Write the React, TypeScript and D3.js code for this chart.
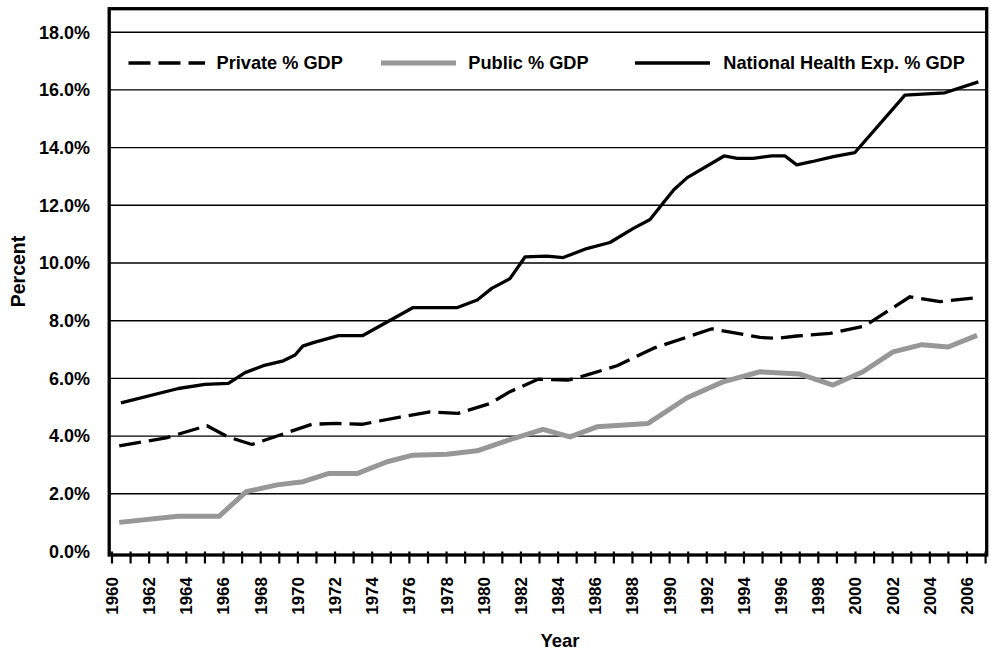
import React from "react";
import * as d3 from "d3";

// National Health Expenditure % GDP
const nheYears = [1960.48, 1963.57, 1965.0, 1966.26, 1967.16, 1968.14, 1969.22, 1969.85, 1970.26, 1970.83, 1972.18, 1973.47, 1976.18, 1978.55, 1979.65, 1980.43, 1981.41, 1982.22, 1983.39, 1984.28, 1985.54, 1986.79, 1988.05, 1988.95, 1989.66, 1990.24, 1990.95, 1992.93, 1993.64, 1994.5, 1995.49, 1996.21, 1996.84, 1997.64, 1998.81, 1999.97, 2002.66, 2004.81, 2006.61];
const nheValues = [5.15, 5.65, 5.79, 5.83, 6.2, 6.44, 6.61, 6.81, 7.12, 7.24, 7.48, 7.48, 8.45, 8.45, 8.72, 9.12, 9.46, 10.21, 10.24, 10.19, 10.5, 10.71, 11.2, 11.51, 12.09, 12.55, 12.96, 13.71, 13.63, 13.63, 13.71, 13.71, 13.4, 13.51, 13.69, 13.83, 15.82, 15.9, 16.28];

// Private % GDP
const privateYears = [1960.39, 1962.91, 1965.11, 1966.24, 1967.53, 1970.76, 1972.11, 1973.45, 1975.49, 1977.11, 1978.62, 1980.34, 1981.41, 1982.92, 1984.53, 1985.56, 1987.17, 1989.11, 1992.28, 1994.86, 1995.78, 1996.85, 1998.63, 2000.51, 2002.93, 2004.55, 2006.54];
const privateValues = [3.66, 3.94, 4.36, 3.97, 3.71, 4.41, 4.44, 4.41, 4.66, 4.84, 4.79, 5.13, 5.54, 5.97, 5.94, 6.12, 6.44, 7.04, 7.72, 7.42, 7.39, 7.47, 7.56, 7.82, 8.83, 8.66, 8.8];

// Public % GDP
const publicYears = [1960.39, 1963.55, 1965.76, 1967.21, 1968.88, 1970.28, 1971.63, 1973.18, 1974.8, 1976.19, 1978.02, 1979.64, 1981.41, 1983.19, 1984.64, 1986.09, 1988.84, 1990.94, 1992.87, 1994.86, 1997.01, 1998.79, 2000.4, 2002.02, 2003.58, 2004.98, 2006.54];
const publicValues = [1.01, 1.22, 1.22, 2.07, 2.31, 2.42, 2.7, 2.7, 3.11, 3.34, 3.37, 3.49, 3.88, 4.23, 3.97, 4.32, 4.44, 5.33, 5.88, 6.23, 6.15, 5.77, 6.23, 6.92, 7.17, 7.09, 7.49];

const yTickValues = [0, 2, 4, 6, 8, 10, 12, 14, 16, 18];
const xTickYears = [1960, 1961, 1962, 1963, 1964, 1965, 1966, 1967, 1968, 1969, 1970, 1971, 1972, 1973, 1974, 1975, 1976, 1977, 1978, 1979, 1980, 1981, 1982, 1983, 1984, 1985, 1986, 1987, 1988, 1989, 1990, 1991, 1992, 1993, 1994, 1995, 1996, 1997, 1998, 1999, 2000, 2001, 2002, 2003, 2004, 2005, 2006, 2007];
const xTickLabels = ["1960", "1962", "1964", "1966", "1968", "1970", "1972", "1974", "1976", "1978", "1980", "1982", "1984", "1986", "1988", "1990", "1992", "1994", "1996", "1998", "2000", "2002", "2004", "2006"];
const legendLabels = ["Private % GDP", "Public % GDP", "National Health Exp. % GDP"];

const FONT = "'Liberation Sans', Arial, Helvetica, sans-serif";
const GRAY = "#979797";
const DASH = "22,8";

export default function App() {
  const W = 991;
  const H = 652;
  const left = 109.2;
  const right = 986.7;
  const top = 8.7;
  const bottom = 555;

  const x = d3.scaleLinear().domain([1960, 2007]).range([112, 985.6]);
  const y = d3.scaleLinear().domain([0, 18.8]).range([551.5, 551.5 - 18.8 * 28.85]);

  const line = d3
    .line<[number, number]>()
    .x((d) => x(d[0]))
    .y((d) => y(d[1]));

  const zip = (a: number[], b: number[]): [number, number][] => a.map((v, i) => [v, b[i]]);

  const nhePath = line(zip(nheYears, nheValues)) || "";
  const privatePath = line(zip(privateYears, privateValues)) || "";
  const publicPath = line(zip(publicYears, publicValues)) || "";

  const legendY = 63;
  const legendTextY = 68.5;
  const legendItems = [
    { label: legendLabels[0], x1: 128.5, x2: 205, tx: 216.5, stroke: "#000", width: 3.3, dash: DASH },
    { label: legendLabels[1], x1: 381, x2: 456, tx: 468.3, stroke: GRAY, width: 5, dash: undefined },
    { label: legendLabels[2], x1: 635, x2: 710, tx: 723.3, stroke: "#000", width: 3.3, dash: undefined },
  ];

  return (
    <div style={{ position: "absolute", left: 0, top: 0, width: W, height: H, background: "#fff" }}>
      <svg width={W} height={H} viewBox={`0 0 ${W} ${H}`} style={{ display: "block" }}>
        <rect x={0} y={0} width={W} height={H} fill="#fff" />
        {/* gridlines */}
        {yTickValues
          .filter((v) => v > 0)
          .map((v) => (
            <line key={"g" + v} x1={left} x2={right} y1={y(v)} y2={y(v)} stroke="#000" strokeWidth={1.4} />
          ))}

        {/* series */}
        <path d={publicPath} fill="none" stroke={GRAY} strokeWidth={5} strokeLinejoin="round" />
        <path d={privatePath} fill="none" stroke="#000" strokeWidth={3.3} strokeDasharray={DASH} strokeLinejoin="round" />
        <path d={nhePath} fill="none" stroke="#000" strokeWidth={3.3} strokeLinejoin="round" />

        {/* frame */}
        <rect x={left} y={top} width={right - left} height={bottom - top} fill="none" stroke="#000" strokeWidth={3.3} />

        {/* x ticks */}
        {xTickYears.map((yr) => (
          <line key={"t" + yr} x1={x(yr)} x2={x(yr)} y1={551.5} y2={563.5} stroke="#000" strokeWidth={2.2} />
        ))}

        {/* x tick labels */}
        {xTickLabels.map((lab) => (
          <text
            key={"xl" + lab}
            transform={`translate(${x(+lab)},577) rotate(-90)`}
            textAnchor="end"
            dy="0.35em"
            fontFamily={FONT}
            fontWeight="bold"
            fontSize={17}
            fill="#000"
          >
            {lab}
          </text>
        ))}

        {/* y tick labels */}
        {yTickValues.map((v) => (
          <text
            key={"yl" + v}
            x={90}
            y={y(v)}
            dy="0.35em"
            textAnchor="end"
            fontFamily={FONT}
            fontWeight="bold"
            fontSize={18}
            fill="#000"
          >
            {d3.format(".1f")(v) + "%"}
          </text>
        ))}

        {/* axis titles */}
        <text
          transform="translate(18,271.5) rotate(-90)"
          textAnchor="middle"
          dy="0.35em"
          fontFamily={FONT}
          fontWeight="bold"
          fontSize={19.5}
          fill="#000"
        >
          Percent
        </text>
        <text x={560} y={646.5} textAnchor="middle" fontFamily={FONT} fontWeight="bold" fontSize={18.5} fill="#000">
          Year
        </text>

        {/* legend */}
        {legendItems.map((it) => (
          <g key={it.label}>
            <line
              x1={it.x1}
              x2={it.x2}
              y1={legendY}
              y2={legendY}
              stroke={it.stroke}
              strokeWidth={it.width}
              strokeDasharray={it.dash}
            />
            <text x={it.tx} y={legendTextY} fontFamily={FONT} fontWeight="bold" fontSize={18.2} fill="#000">
              {it.label}
            </text>
          </g>
        ))}
      </svg>
    </div>
  );
}
